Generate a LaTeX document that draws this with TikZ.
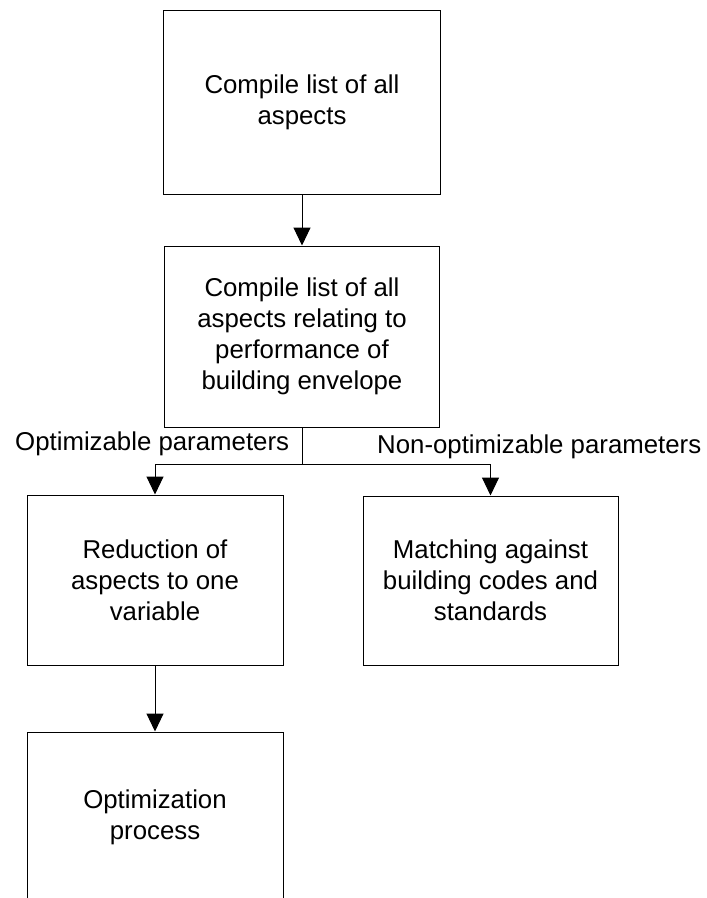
\documentclass[tikz,border=0pt]{standalone}
\usepackage{fontspec}
\setmainfont{Liberation Sans}
\usetikzlibrary{arrows.meta}
\begin{document}
\begin{tikzpicture}[x=1pt,y=-1pt,
  every node/.style={font=\fontsize{25.8pt}{31pt}\selectfont, inner sep=0pt},
  stepbox/.style={draw=black, line width=1pt, fill=white, align=center},
  flow/.style={draw=black, line width=1pt, -{Triangle[length=18pt,width=17pt]}}]
  \useasboundingbox (0,0) rectangle (707,898);
  \clip (0,0) rectangle (707,898);
  \fill[white] (0,0) rectangle (707,898);

  % process boxes
  \node[stepbox, minimum width=277pt, minimum height=184pt] (collect) at (302,102)
    {Compile list of all\\aspects};
  \node[stepbox, minimum width=275pt, minimum height=181pt] (envelope) at (302,336.5)
    {Compile list of all\\aspects relating to\\performance of\\building envelope};
  \node[stepbox, minimum width=256pt, minimum height=170pt] (reduce) at (155,580)
    {Reduction of\\aspects to one\\variable};
  \node[stepbox, minimum width=255pt, minimum height=169pt] (codes) at (490.5,580.5)
    {Matching against\\building codes and\\standards};
  \node[stepbox, minimum width=256pt, minimum height=170pt] (optim) at (155,817)
    {Optimization\\process};

  % branch labels
  \node[anchor=base west] (optlabel) at (15,450) {Optimizable parameters};
  \node[anchor=base west] (nonoptlabel) at (377,453) {Non-optimizable parameters};

  % connectors
  \coordinate (split) at (envelope.south |- 0,464);
  \draw[flow] (collect.south) -- (envelope.north);
  \draw[line width=1pt] (envelope.south) -- (split);
  \draw[flow] (split) -| (reduce.north);
  \draw[flow] (split) -| (codes.north);
  \draw[flow] (reduce.south) -- (optim.north);
\end{tikzpicture}
\end{document}
